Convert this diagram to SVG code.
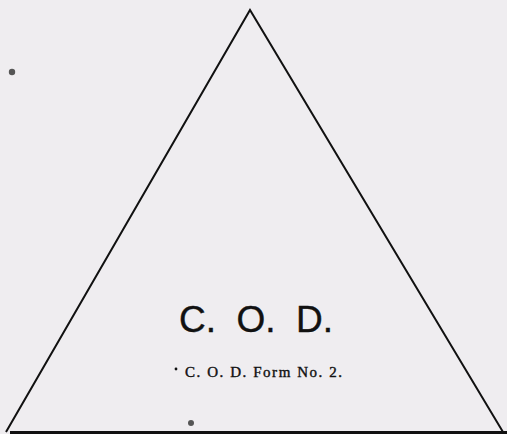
<svg xmlns="http://www.w3.org/2000/svg" width="507" height="434" viewBox="0 0 507 434">
<style>
.edge{fill:none;stroke:#111;stroke-width:2;stroke-linejoin:miter}
.dot{fill:#555}
.t1{font-family:"Liberation Sans",Arial,sans-serif;font-size:37px;fill:#111;stroke:#111;stroke-width:0.4}
.t2{font-family:"Liberation Serif","Times New Roman",serif;font-size:15px;fill:#111;stroke:#111;stroke-width:0.4}
</style>
<rect width="507" height="434" fill="#efedf0"/>
<g id="triangle">
<path class="edge" d="M6,432 L250,10 L503,432"/>
<rect x="10" y="431" width="497" height="3" fill="#111"/>
</g>
<g id="labels">
<text class="t1" x="256" y="332" text-anchor="middle" xml:space="preserve">C.  O.  D.</text>
<text class="t2" x="185" y="377" textLength="157" lengthAdjust="spacing">C. O. D. Form No. 2.</text>
<circle cx="176" cy="369" r="1.4" fill="#111"/>
</g>
<g id="marks">
<circle class="dot" cx="12" cy="72" r="3.2"/>
<circle class="dot" cx="191" cy="423" r="3"/>
</g>
</svg>
